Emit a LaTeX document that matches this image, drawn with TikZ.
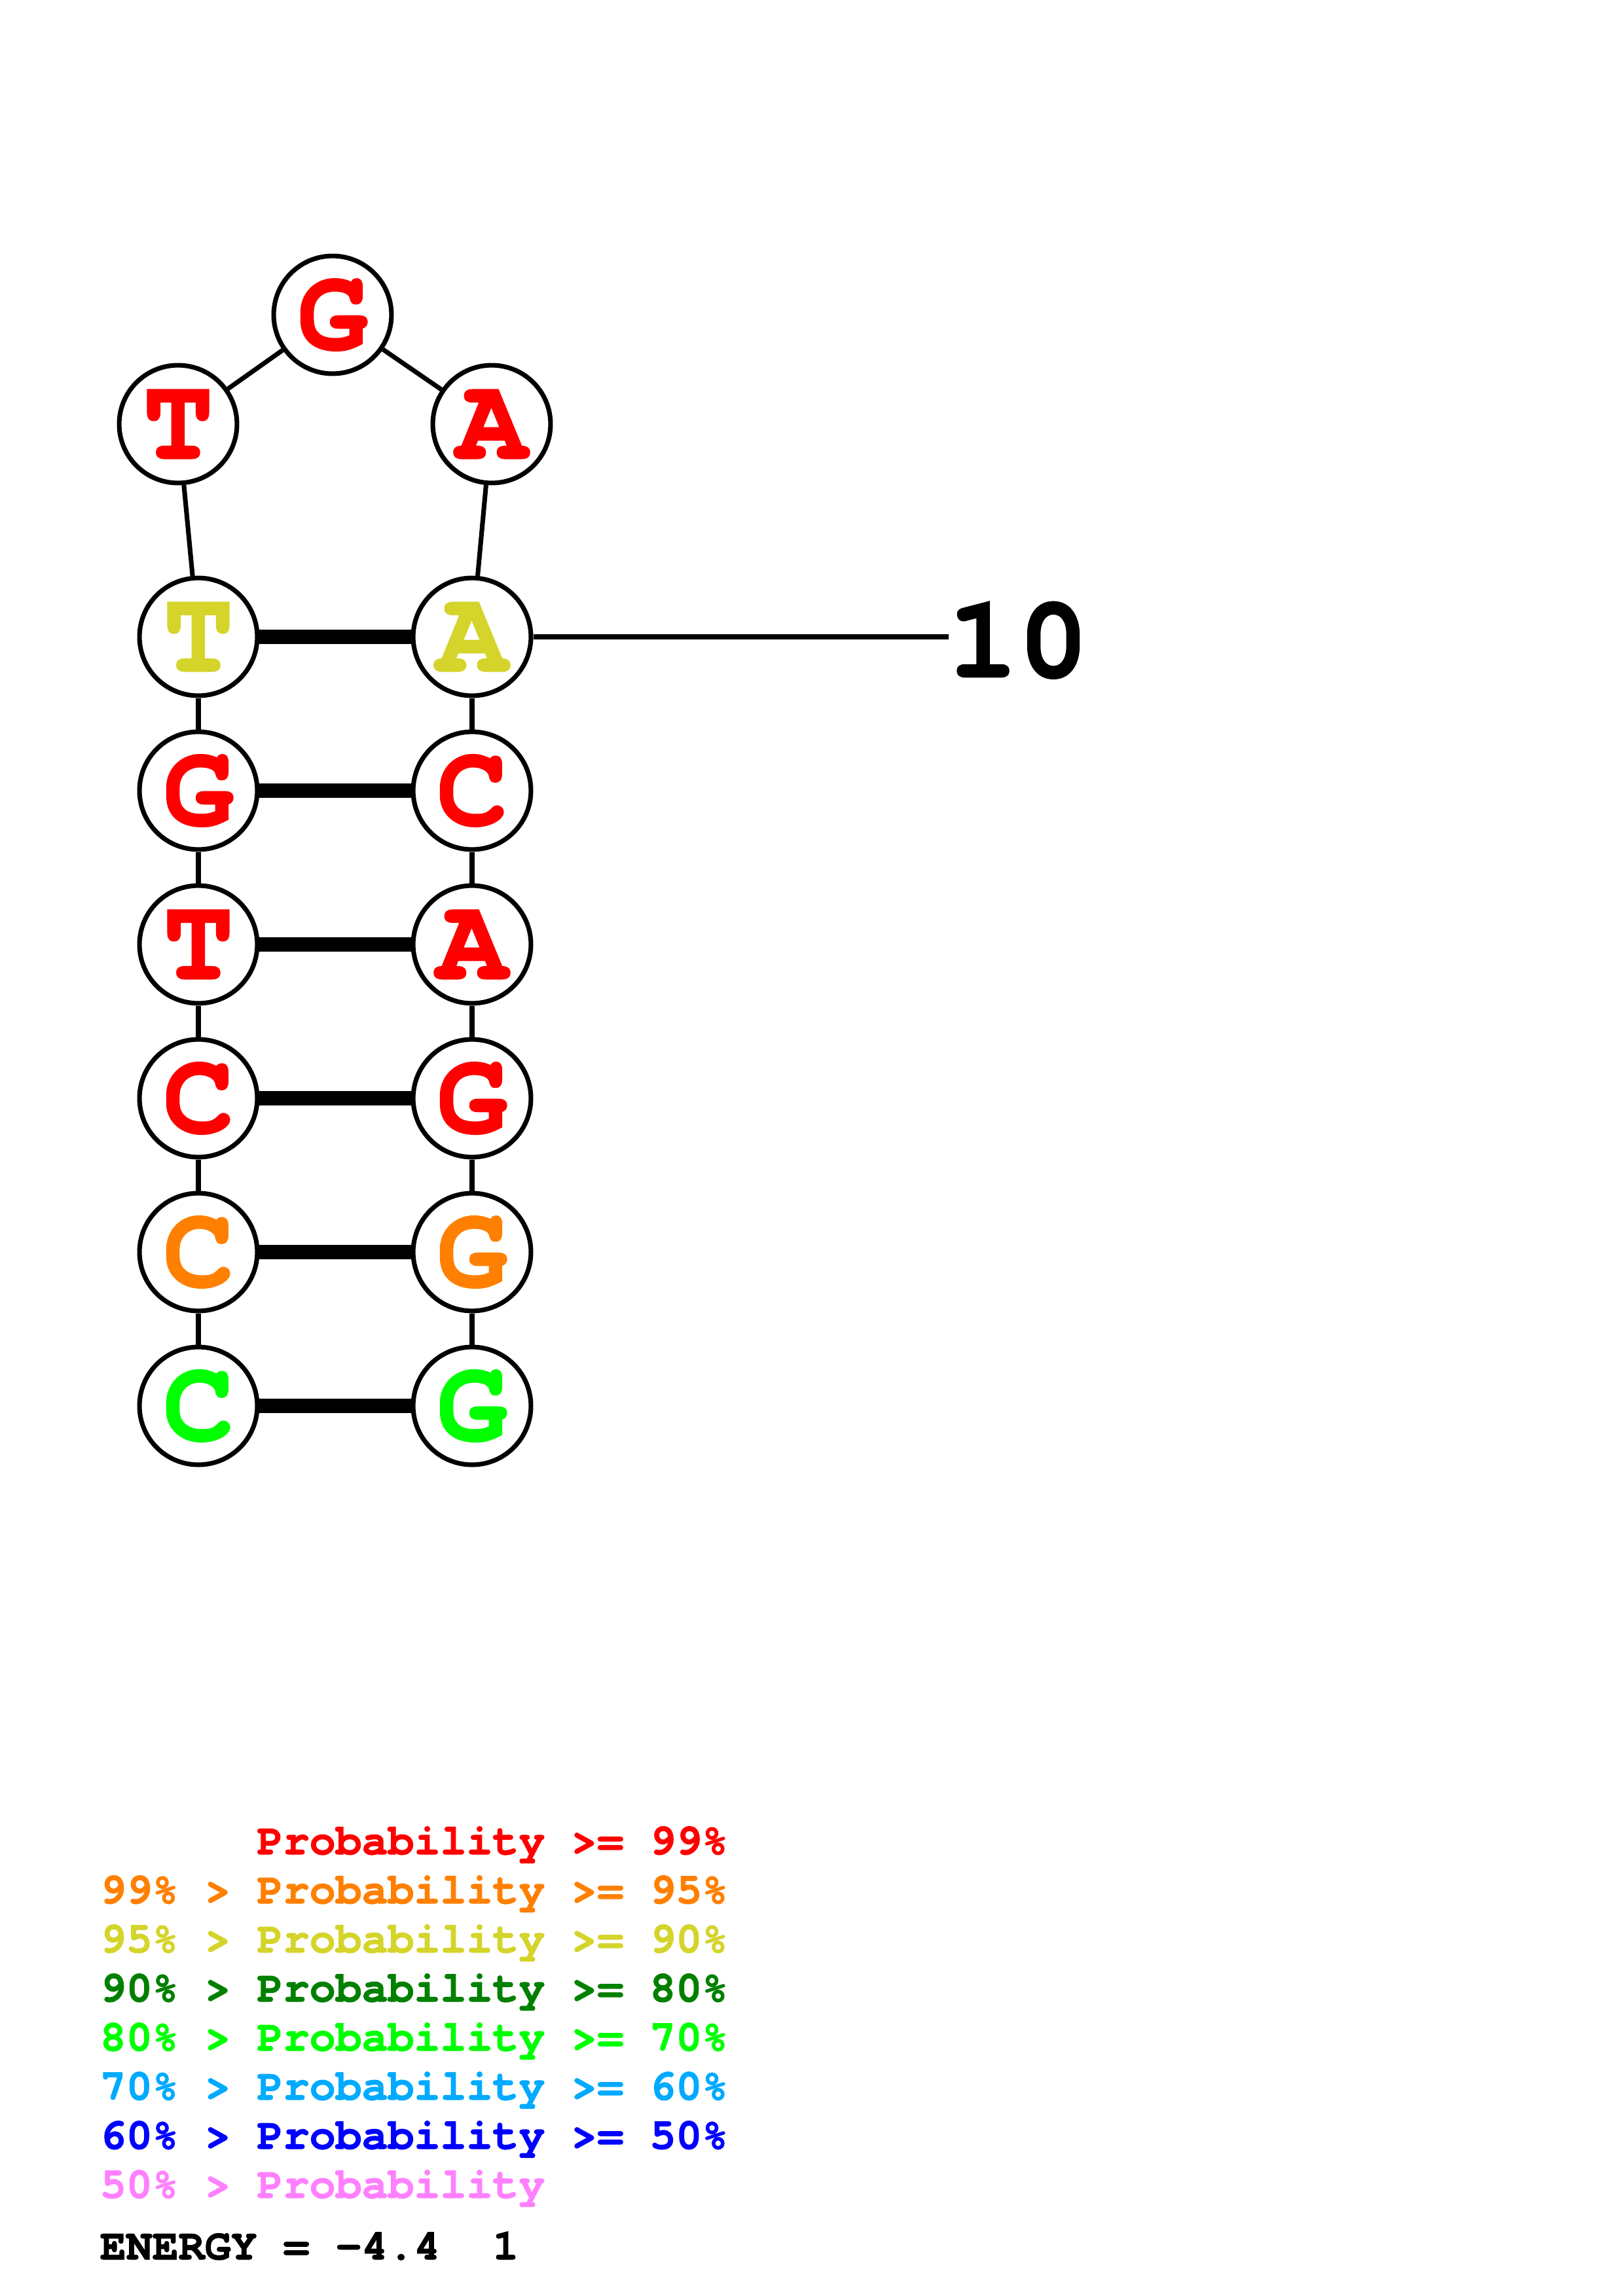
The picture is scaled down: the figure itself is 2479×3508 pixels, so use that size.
\documentclass[tikz,border=0pt]{standalone}
\usepackage{fontspec}
\setmainfont{TeX Gyre Cursor}[BoldFeatures={FakeBold=1.5}]
\definecolor{pA}{RGB}{255,0,0}
\definecolor{pB}{RGB}{255,128,0}
\definecolor{pC}{RGB}{212,212,42}
\definecolor{pD}{RGB}{0,128,0}
\definecolor{pE}{RGB}{0,255,0}
\definecolor{pF}{RGB}{0,170,255}
\definecolor{pG}{RGB}{0,0,255}
\definecolor{pH}{RGB}{255,128,255}
\tikzset{
  base/.style={circle, draw=black, fill=white, line width=1.7pt, minimum size=43.2pt, inner sep=0pt, font=\fontsize{43}{43}\selectfont\bfseries},
  bb/.style={line width=1.7pt},
  pair/.style={line width=5.3pt},
  legend/.style={anchor=base west, inner sep=0pt, font=\fontsize{16}{16}\selectfont\bfseries}
}
\begin{document}
\begin{tikzpicture}[x=0.24013pt,y=-0.24013pt]
\path[use as bounding box] (0,0) rectangle (2479,3508);
% loop
\node[base, text=pA] (g) at (508,481) {G};
\node[base, text=pA] (lt) at (272,648) {T};
\node[base, text=pA] (la) at (751,648) {A};
% stem
\node[base, text=pC] (l1) at (303,973) {T};
\node[base, text=pA] (l2) at (303,1208) {G};
\node[base, text=pA] (l3) at (303,1443) {T};
\node[base, text=pA] (l4) at (303,1678) {C};
\node[base, text=pB] (l5) at (303,1913) {C};
\node[base, text=pE] (l6) at (303,2148) {C};
\node[base, text=pC] (r1) at (721,973) {A};
\node[base, text=pA] (r2) at (721,1208) {C};
\node[base, text=pA] (r3) at (721,1443) {A};
\node[base, text=pA] (r4) at (721,1678) {G};
\node[base, text=pB] (r5) at (721,1913) {G};
\node[base, text=pE] (r6) at (721,2148) {G};
% backbone
\draw[bb] (l1) -- (lt);
\draw[bb] (lt) -- (g);
\draw[bb] (g) -- (la);
\draw[bb] (la) -- (r1);
\draw[bb] (l1) -- (l2);
\draw[bb] (l2) -- (l3);
\draw[bb] (l3) -- (l4);
\draw[bb] (l4) -- (l5);
\draw[bb] (l5) -- (l6);
\draw[bb] (r1) -- (r2);
\draw[bb] (r2) -- (r3);
\draw[bb] (r3) -- (r4);
\draw[bb] (r4) -- (r5);
\draw[bb] (r5) -- (r6);
% pairs
\draw[pair] (l1) -- (r1);
\draw[pair] (l2) -- (r2);
\draw[pair] (l3) -- (r3);
\draw[pair] (l4) -- (r4);
\draw[pair] (l5) -- (r5);
\draw[pair] (l6) -- (r6);
% label 10
\coordinate (tick) at (1449,973);
\draw[bb] (r1) -- (tick);
\node[anchor=base west, inner sep=0pt, font=\fontsize{43}{43}\selectfont\bfseries] (num) at (1447,1034) {10};
% legend
\node[legend, text=pA] (k1) at (152,2833) {\phantom{99\% > }Probability >= 99\%};
\node[legend, text=pB] (k2) at (152,2908) {99\% > Probability >= 95\%};
\node[legend, text=pC] (k3) at (152,2983) {95\% > Probability >= 90\%};
\node[legend, text=pD] (k4) at (152,3058) {90\% > Probability >= 80\%};
\node[legend, text=pE] (k5) at (152,3133) {80\% > Probability >= 70\%};
\node[legend, text=pF] (k6) at (152,3208) {70\% > Probability >= 60\%};
\node[legend, text=pG] (k7) at (152,3283) {60\% > Probability >= 50\%};
\node[legend, text=pH] (k8) at (152,3358) {50\% > Probability};
\node[legend, text=black] (en) at (152,3452) {ENERGY = -4.4\ \ 1};
\end{tikzpicture}
\end{document}
